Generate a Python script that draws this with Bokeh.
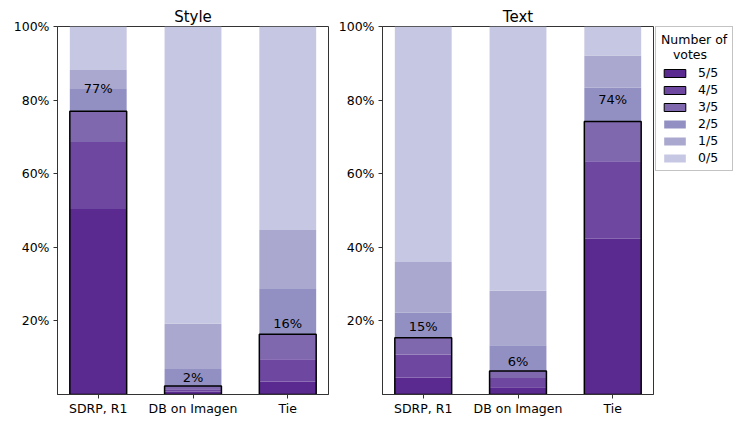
import numpy as np
from bokeh.plotting import figure
from bokeh.layouts import row
from bokeh.models import (FixedTicker, PrintfTickFormatter, Legend, LegendItem,
                          Range1d, ColumnDataSource)
from bokeh.core.properties import value
from bokeh.embed import file_html
from bokeh.resources import INLINE

# ---- data (percent of raters) ----
categories = ["SDRP, R1", "DB on Imagen", "Tie"]
levels = ["5/5", "4/5", "3/5", "2/5", "1/5", "0/5"]
colors = ["#5b2a90", "#6e47a0", "#7f68ae", "#9290c3", "#aaa8cf", "#c6c7e2"]

style_5 = [50.4, 0.8, 3.5]
style_4 = [18.2, 0.6, 6.1]
style_3 = [8.4, 0.9, 6.8]
style_2 = [6.0, 4.6, 12.3]
style_1 = [5.2, 12.3, 16.0]
style_0 = [11.8, 80.8, 55.3]

text_5 = [4.6, 2.0, 42.3]
text_4 = [6.3, 2.5, 21.1]
text_3 = [4.5, 1.9, 10.8]
text_2 = [6.8, 7.0, 9.2]
text_1 = [13.8, 14.8, 8.7]
text_0 = [64.0, 71.8, 7.9]

y_ticks = [20, 40, 60, 80, 100]
legend_title = "Number of\n\u00a0\u00a0\u00a0votes"

FONT = "DejaVu Sans"
AXIS_COLOR = "#333333"
H = 418


def make_panel(title, series, width, left, right):
    p = figure(width=width, height=H, x_range=Range1d(-0.43, 2.43),
               y_range=Range1d(0, 100), output_backend="svg",
               toolbar_location=None, min_border_left=left,
               min_border_right=right, min_border_top=26, min_border_bottom=22,
               title=title)
    p.title.text_font = FONT
    p.title.text_font_size = "15px"
    p.title.text_font_style = "normal"
    p.title.text_color = "black"
    p.title.align = "center"
    p.title.standoff = 2
    p.grid.visible = False
    p.outline_line_color = AXIS_COLOR
    p.outline_line_width = 1
    p.outline_line_alpha = 1

    x = np.arange(len(categories))
    bottom = np.zeros(len(categories))
    for vals, col in zip(series, colors):
        vals = np.array(vals)
        p.vbar(x=x, bottom=bottom, top=bottom + vals, width=0.6,
               fill_color=col, line_color=None)
        bottom = bottom + vals

    majority = np.array(series[0]) + np.array(series[1]) + np.array(series[2])
    p.vbar(x=x, bottom=0, top=majority, width=0.6, fill_color=None,
           line_color="black", line_width=1.5)
    labels = ["%d%%" % int(round(m)) for m in majority]
    src = ColumnDataSource(dict(x=x, y=majority * 1.05 + 2.2, t=labels))
    p.text(x="x", y="y", text="t", source=src, text_align="center",
           text_baseline="middle", text_font=value(FONT),
           text_font_size="13px", text_color="black")

    p.xaxis.ticker = FixedTicker(ticks=[0, 1, 2])
    p.xaxis.major_label_overrides = {i: c for i, c in enumerate(categories)}
    p.yaxis.ticker = FixedTicker(ticks=y_ticks)
    p.yaxis.formatter = PrintfTickFormatter(format="%d%%")
    for ax in (p.xaxis[0], p.yaxis[0]):
        ax.axis_line_color = AXIS_COLOR
        ax.major_tick_line_color = AXIS_COLOR
        ax.major_tick_out = 4
        ax.major_tick_in = 0
        ax.minor_tick_line_color = None
        ax.major_label_text_font = FONT
        ax.major_label_text_font_size = "12.5px"
        ax.major_label_text_color = "black"
    p.xaxis.major_label_standoff = 2
    p.yaxis.major_label_standoff = 4
    return p


p1 = make_panel("Style", [style_5, style_4, style_3, style_2, style_1, style_0],
                333, 57, 5)
p2 = make_panel("Text", [text_5, text_4, text_3, text_2, text_1, text_0],
                322, 49, 2)

# legend-only figure
p3 = figure(width=78, height=H, x_range=Range1d(0, 1), y_range=Range1d(0, 1),
            output_backend="svg", toolbar_location=None,
            min_border_left=0, min_border_right=0, min_border_top=21,
            min_border_bottom=0)
p3.axis.visible = False
p3.grid.visible = False
p3.outline_line_color = None

items = []
for i, (lab, col) in enumerate(zip(levels, colors)):
    r = p3.vbar(x=[0.5], bottom=[0], top=[1], width=1, fill_color=col,
                line_color="black" if i < 3 else None, line_width=1,
                visible=False)
    items.append(LegendItem(label=lab, renderers=[r]))

legend = Legend(items=items, location="top_left", title=legend_title,
                title_text_font=FONT, title_text_font_size="12.5px",
                title_text_font_style="normal", title_text_color="black",
                title_standoff=3,
                label_text_font=FONT, label_text_font_size="12.5px",
                label_text_color="black",
                glyph_width=27, glyph_height=10, label_height=10,
                label_standoff=10, spacing=2, padding=5, margin=0,
                border_line_color="#888888", border_line_width=1,
                background_fill_alpha=1, inactive_fill_alpha=0)
p3.add_layout(legend, "center")

layout = row(p1, p2, p3)
open("out.html", "w").write(file_html(layout, INLINE))
